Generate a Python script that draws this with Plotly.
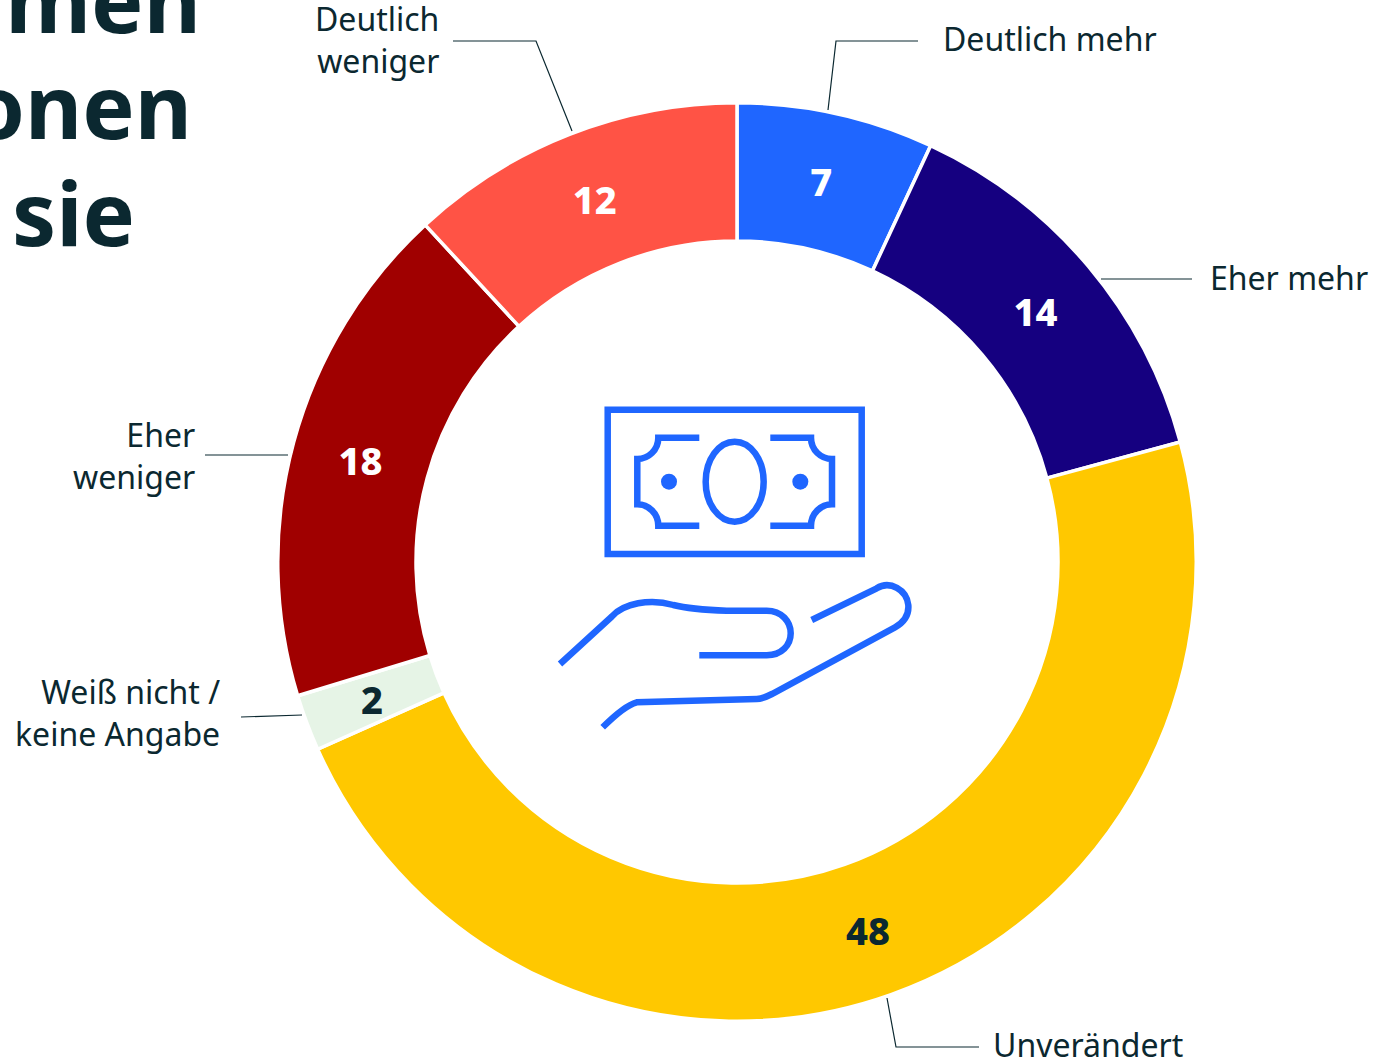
import math
import plotly.graph_objects as go

categories = ["Deutlich mehr", "Eher mehr", "Unverändert", "Weiß nicht / keine Angabe", "Eher weniger", "Deutlich weniger"]
values = [7, 14, 48, 2, 18, 12]
colors = ["#1f66ff", "#150080", "#ffc800", "#e6f4e6", "#a00000", "#ff5345"]
value_text_colors = ["#ffffff", "#ffffff", "#0b2830", "#0b2830", "#ffffff", "#ffffff"]

W, H = 1396, 1061
CX, CY, R_OUT, R_IN = 737, 562, 459.25, 321.0
INK = "#0b2830"
ICON = "#1f66ff"
LABEL_FONT = "Noto Sans"
TITLE_FONT = "Noto Sans"
SMALL_SLICE = 3  # its value does not fit Plotly's inside-text rule, so it is annotated at the slice's centre

label_specs = [
    ("Deutlich mehr", 941, 38, "left"),
    ("Eher mehr", 1208, 277, "left"),
    ("Unverändert", 991, 1044, "left"),
    ("Deutlich<br>weniger", 441, 39, "right"),
    ("Eher<br>weniger", 197, 455, "right"),
    ("Weiß nicht /<br>keine Angabe", 222, 712, "right"),
]
leaders = [
    [(918, 41), (836, 41), (828, 110)],
    [(453, 41), (536, 41), (572, 131)],
    [(1192, 279), (1101, 279)],
    [(288, 455), (205, 455)],
    [(302, 715), (241, 717)],
    [(887, 998), (896, 1047), (979, 1047)],
]
title_lines = [("imen", 203, 37), ("onen", 194, 143), ("sie", 137, 250)]

slice_text = [("" if i == SMALL_SLICE else str(v)) for i, v in enumerate(values)]

fig = go.Figure()
fig.add_trace(go.Pie(
    labels=categories, values=values, sort=False, direction="clockwise", rotation=0,
    hole=R_IN / R_OUT, text=slice_text, textinfo="text", textposition="inside",
    insidetextorientation="horizontal",
    insidetextfont=dict(family=LABEL_FONT, size=38, color=value_text_colors, weight=800),
    marker=dict(colors=colors, line=dict(color="#ffffff", width=3.5)),
    domain=dict(x=[(CX - R_OUT) / W, (CX + R_OUT) / W], y=[1 - (CY + R_OUT) / H, 1 - (CY - R_OUT) / H]),
    showlegend=False, hoverinfo="label+value",
))

# Invisible pixel-scaled axes for the annotations, leader lines and icon
fig.add_trace(go.Scatter(x=[0, W], y=[0, H], mode="markers", marker=dict(opacity=0), showlegend=False, hoverinfo="skip"))
fig.update_xaxes(range=[0, W], visible=False, domain=[0, 1])
fig.update_yaxes(range=[H, 0], visible=False, domain=[0, 1])

mid = (sum(values[:SMALL_SLICE]) + values[SMALL_SLICE] / 2) / sum(values) * 2 * math.pi
r_mid = (R_OUT + R_IN) / 2
fig.add_annotation(x=CX + r_mid * math.sin(mid), y=CY - r_mid * math.cos(mid), text=str(values[SMALL_SLICE]),
                   showarrow=False, font=dict(family=LABEL_FONT, size=38, color=value_text_colors[SMALL_SLICE], weight=800))

for text, x, y, side in label_specs:
    fig.add_annotation(x=x, y=y, text=text, showarrow=False, xanchor=side, yanchor="middle", align=side,
                       font=dict(family=LABEL_FONT, size=32, color=INK))
for text, x, y in title_lines:
    fig.add_annotation(x=x, y=y, text=f"<b>{text}</b>", showarrow=False, xanchor="right", yanchor="bottom", yshift=-24,
                       font=dict(family=TITLE_FONT, size=88, color=INK))

for pts in leaders:
    path = "M " + " L ".join(f"{x} {y}" for x, y in pts)
    fig.add_shape(type="path", path=path, line=dict(color=INK, width=1.2))


def z(x, y):
    return f"{540 + x / 3:.1f} {390 + y / 3:.1f}"


def curve(start, *segments):
    d = "M " + z(*start)
    for seg in segments:
        if len(seg) == 2:
            d += " L " + z(*seg)
        else:
            d += " C " + z(*seg[:2]) + ", " + z(*seg[2:4]) + ", " + z(*seg[4:])
    return d


note_w = 6.5
icon_paths = [
    curve((203, 59), (965, 59), (965, 492), (203, 492), (203, 59), (203, 59)) + " Z",
    curve((478, 143), (355, 143), (355, 180, 325, 207, 292, 207), (292, 343), (325, 343, 355, 370, 355, 407), (478, 407)),
    curve((691, 143), (813, 143), (813, 180, 843, 207, 876, 207), (876, 343), (843, 343, 813, 370, 813, 407), (691, 407)),
    curve((60, 822), (215, 680), (250, 640, 330, 625, 400, 645), (450, 658, 500, 660, 560, 662), (680, 662),
          (725, 662, 752, 695, 752, 730), (752, 765, 725, 796, 680, 796), (478, 796)),
    curve((188, 1012), (220, 980, 260, 945, 290, 937), (650, 927), (670, 926, 680, 920, 700, 910), (1065, 712),
          (1095, 695, 1107, 670, 1105, 645), (1100, 600, 1050, 570, 1010, 595), (815, 690)),
]
for d in icon_paths:
    fig.add_shape(type="path", path=d, line=dict(color=ICON, width=note_w))
fig.add_shape(type="circle", x0=540 + 497 / 3, x1=540 + 671 / 3, y0=390 + 155 / 3, y1=390 + 395 / 3,
              line=dict(color=ICON, width=note_w))
for dx in (387, 781):
    fig.add_shape(type="circle", x0=540 + (dx - 24) / 3, x1=540 + (dx + 24) / 3, y0=390 + 251 / 3, y1=390 + 299 / 3,
                  line=dict(width=0), fillcolor=ICON)

fig.update_layout(width=W, height=H, margin=dict(l=0, r=0, t=0, b=0), paper_bgcolor="#ffffff",
                  plot_bgcolor="#ffffff", showlegend=False)
fig.write_html("out.html", config=dict(displayModeBar=False),
               post_script="document.body.style.margin='0';document.body.style.overflow='hidden';")
